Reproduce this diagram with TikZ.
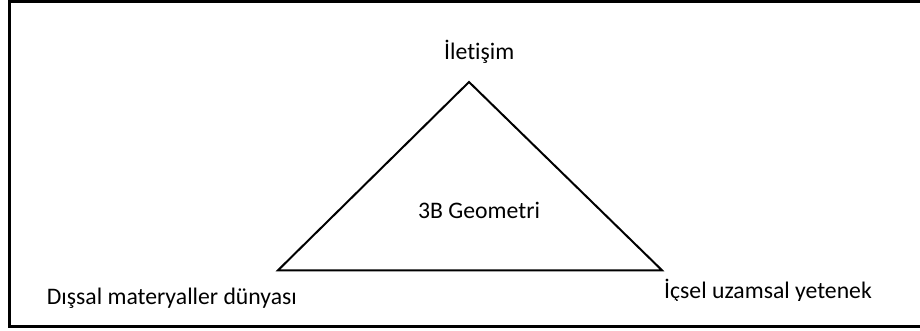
\documentclass[tikz,border=0pt]{standalone}
\usepackage{fontspec}
\setmainfont{Carlito}[Ligatures=NoCommon]
\begin{document}
\begin{tikzpicture}[x=1pt,y=1pt,
  lbl/.style={inner sep=0pt,anchor=base west,font=\fontsize{23.7}{28}\selectfont},
  tri/.style={draw=black,line width=2pt,line join=miter}]
\useasboundingbox (0,0) rectangle (920,331);
\fill[white] (0,0) rectangle (920,331);
\draw[line width=2.6pt] (930,329.3) -- (9.3,329.3) -- (9.3,4.7) -- (930,4.7);
\coordinate (A) at (469,249);
\coordinate (B) at (278,60.7);
\coordinate (C) at (662,60.7);
\draw[tri] (A) -- (B) -- (C) -- cycle;
\node[lbl] (top) at (444,271.7) {İletişim};
\node[lbl] (mid) at (418,112) {3B Geometri};
\node[lbl] (left) at (46.7,26.7) {Dışsal materyaller dünyası};
\begin{scope}
\clip (600,30.5) rectangle (920,80);
\node[lbl] (right) at (664,32) {İçsel uzamsal yetenek};
\end{scope}
\end{tikzpicture}
\end{document}
